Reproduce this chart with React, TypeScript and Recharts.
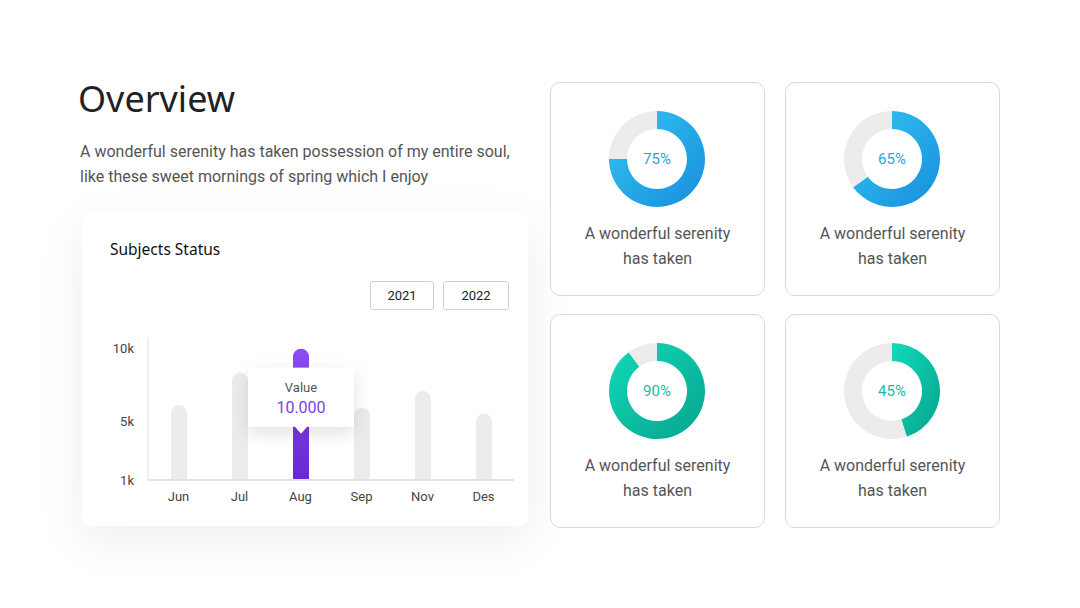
import { Bar, BarChart, Cell, Label, LabelList, Pie, PieChart, XAxis, YAxis } from "recharts";

// Subjects Status bars
const months = ["Jun", "Jul", "Aug", "Sep", "Nov", "Des"];
const monthValues = [6150, 8350, 10000, 5950, 7100, 5550];
const activeMonth = "Aug";
const yTicks = [1000, 5000, 10000];
const yTickLabels = ["1k", "5k", "10k"];
const years = ["2021", "2022"];

// donut cards
const donutPercents = [75, 65, 90, 45];
const donutTones = ["blue", "blue", "teal", "teal"];
const donutCaption = ["A wonderful serenity", "has taken"];

const TONES: Record<string, { from: string; to: string; text: string }> = {
  blue: { from: "#33c6ee", to: "#188ddf", text: "#2aa4df" },
  teal: { from: "#12dab9", to: "#06a38d", text: "#16bca3" },
};

const FONT = "Roboto, 'Noto Sans', sans-serif";
const TRACK = "#ececec";

const barRows = months.map((m, i) => ({ month: m, value: monthValues[i] }));
const activeIndex = months.indexOf(activeMonth);

function formatDots(v: number) {
  return String(v).replace(/\B(?=(\d{3})+(?!\d))/g, ".");
}

function ValueTip(props: any) {
  const { x, y, width, value, index } = props;
  if (index !== activeIndex) return null;
  const cx = Number(x) + Number(width) / 2;
  const top = Number(y) + 19;
  const w = 106;
  const h = 59;
  return (
    <g>
      <rect
        x={cx - w / 2}
        y={top}
        width={w}
        height={h}
        fill="#fff"
        filter="url(#tipShadow)"
      />
      <polygon
        points={`${cx - 7},${top + h - 1} ${cx + 7},${top + h - 1} ${cx},${top + h + 7}`}
        fill="#fff"
      />
      <text x={cx} y={top + 20} textAnchor="middle" dominantBaseline="central" fontSize={13} fill="#555" fontFamily={FONT}>
        Value
      </text>
      <text x={cx} y={top + 40} textAnchor="middle" dominantBaseline="central" fontSize={16} fill="#7b3fe4" fontFamily={FONT}>
        {formatDots(Number(value))}
      </text>
    </g>
  );
}

function Donut({ pct, tone, id }: { pct: number; tone: string; id: string }) {
  const t = TONES[tone];
  const rows = [
    { name: "done", value: pct },
    { name: "rest", value: 100 - pct },
  ];
  return (
    <PieChart width={100} height={100} margin={{ top: 0, right: 0, bottom: 0, left: 0 }}>
      <defs>
        <linearGradient id={id} x1="0" y1="0" x2="1" y2="1">
          <stop offset="0%" stopColor={t.from} />
          <stop offset="100%" stopColor={t.to} />
        </linearGradient>
      </defs>
      <Pie
        data={rows}
        dataKey="value"
        cx="50%"
        cy="50%"
        innerRadius={30}
        outerRadius={48}
        startAngle={90}
        endAngle={-270}
        stroke="none"
        isAnimationActive={false}
      >
        <Cell fill={`url(#${id})`} />
        <Cell fill={TRACK} />
        <Label
          value={`${pct}%`}
          position="center"
          fill={t.text}
          fontSize={15}
          fontFamily={FONT}
        />
      </Pie>
    </PieChart>
  );
}

const cardPos = [
  { left: 550, top: 82 },
  { left: 785, top: 82 },
  { left: 550, top: 314 },
  { left: 785, top: 314 },
];

export default function App() {
  return (
    <div
      style={{
        position: "absolute",
        left: 0,
        top: 0,
        width: 1080,
        height: 608,
        background: "#fff",
        overflow: "hidden",
        fontFamily: FONT,
      }}
    >
      <div
        style={{
          position: "absolute",
          left: 78,
          top: 75,
          fontSize: 36,
          color: "#222",
          fontFamily: "'Noto Sans', 'Open Sans', sans-serif",
          lineHeight: "48px",
        }}
      >
        Overview
      </div>
      <div
        style={{
          position: "absolute",
          left: 80,
          top: 139,
          width: 470,
          fontSize: 16,
          lineHeight: "25px",
          color: "#555",
        }}
      >
        A wonderful serenity has taken possession of my entire soul,
        <br />
        like these sweet mornings of spring which I enjoy
      </div>

      {/* chart card */}
      <div
        style={{
          position: "absolute",
          left: 82,
          top: 212,
          width: 446,
          height: 314,
          background: "#fff",
          borderRadius: 8,
          boxShadow: "0 14px 50px rgba(0,0,0,0.07)",
        }}
      />
      <div
        style={{
          position: "absolute",
          left: 110,
          top: 238,
          fontSize: 15.5,
          color: "#111",
          fontFamily: "'Noto Sans', 'Open Sans', sans-serif",
          lineHeight: "22px",
        }}
      >
        Subjects Status
      </div>
      {years.map((yr, i) => (
        <div
          key={yr}
          style={{
            position: "absolute",
            left: i === 0 ? 370 : 443,
            top: 281,
            width: i === 0 ? 64 : 66,
            height: 29,
            boxSizing: "border-box",
            border: "1px solid #cfcfcf",
            borderRadius: 3,
            fontSize: 13,
            color: "#222",
            display: "flex",
            alignItems: "center",
            justifyContent: "center",
          }}
        >
          {yr}
        </div>
      ))}
      <div style={{ position: "absolute", left: 82, top: 320 }}>
        <BarChart
          width={446}
          height={200}
          data={barRows}
          margin={{ top: 17, right: 14, bottom: 10, left: 0 }}
        >
          <defs>
            <linearGradient id="purpleBar" x1="0" y1="0" x2="0" y2="1">
              <stop offset="0%" stopColor="#8c4df4" />
              <stop offset="100%" stopColor="#6629d2" />
            </linearGradient>
            <filter id="tipShadow" x="-50%" y="-50%" width="200%" height="200%">
              <feDropShadow dx="0" dy="6" stdDeviation="9" floodColor="#000" floodOpacity="0.12" />
            </filter>
          </defs>
          <XAxis
            dataKey="month"
            axisLine={{ stroke: "#e2e2e2", strokeWidth: 2 }}
            tickLine={false}
            tickSize={0}
            tickMargin={12}
            height={30}
            tick={{ fill: "#444", fontSize: 13, fontFamily: FONT }}
          />
          <YAxis
            domain={[1000, 10800]}
            ticks={yTicks}
            tickFormatter={(v: number) => yTickLabels[yTicks.indexOf(v)] ?? String(v)}
            axisLine={{ stroke: "#e2e2e2", strokeWidth: 1 }}
            tickLine={false}
            tickSize={0}
            tickMargin={14}
            width={66}
            tick={{ fill: "#444", fontSize: 13, fontFamily: FONT }}
          />
          <Bar dataKey="value" barSize={16} radius={[8, 8, 0, 0]} isAnimationActive={false}>
            {barRows.map((r) => (
              <Cell key={r.month} fill={r.month === activeMonth ? "url(#purpleBar)" : TRACK} />
            ))}
            <LabelList dataKey="value" content={ValueTip} />
          </Bar>
        </BarChart>
      </div>

      {/* donut cards */}
      {donutPercents.map((pct, i) => (
        <div
          key={i}
          style={{
            position: "absolute",
            left: cardPos[i].left,
            top: cardPos[i].top,
            width: 215,
            height: 214,
            boxSizing: "border-box",
            border: "1px solid #dadada",
            borderRadius: 10,
            background: "#fff",
          }}
        >
          <div style={{ position: "absolute", left: 56, top: 26 }}>
            <Donut pct={pct} tone={donutTones[i]} id={`donut${i}`} />
          </div>
          <div
            style={{
              position: "absolute",
              left: 0,
              top: 138,
              width: "100%",
              textAlign: "center",
              fontSize: 16,
              lineHeight: "25px",
              color: "#555",
            }}
          >
            {donutCaption[0]}
            <br />
            {donutCaption[1]}
          </div>
        </div>
      ))}
    </div>
  );
}
